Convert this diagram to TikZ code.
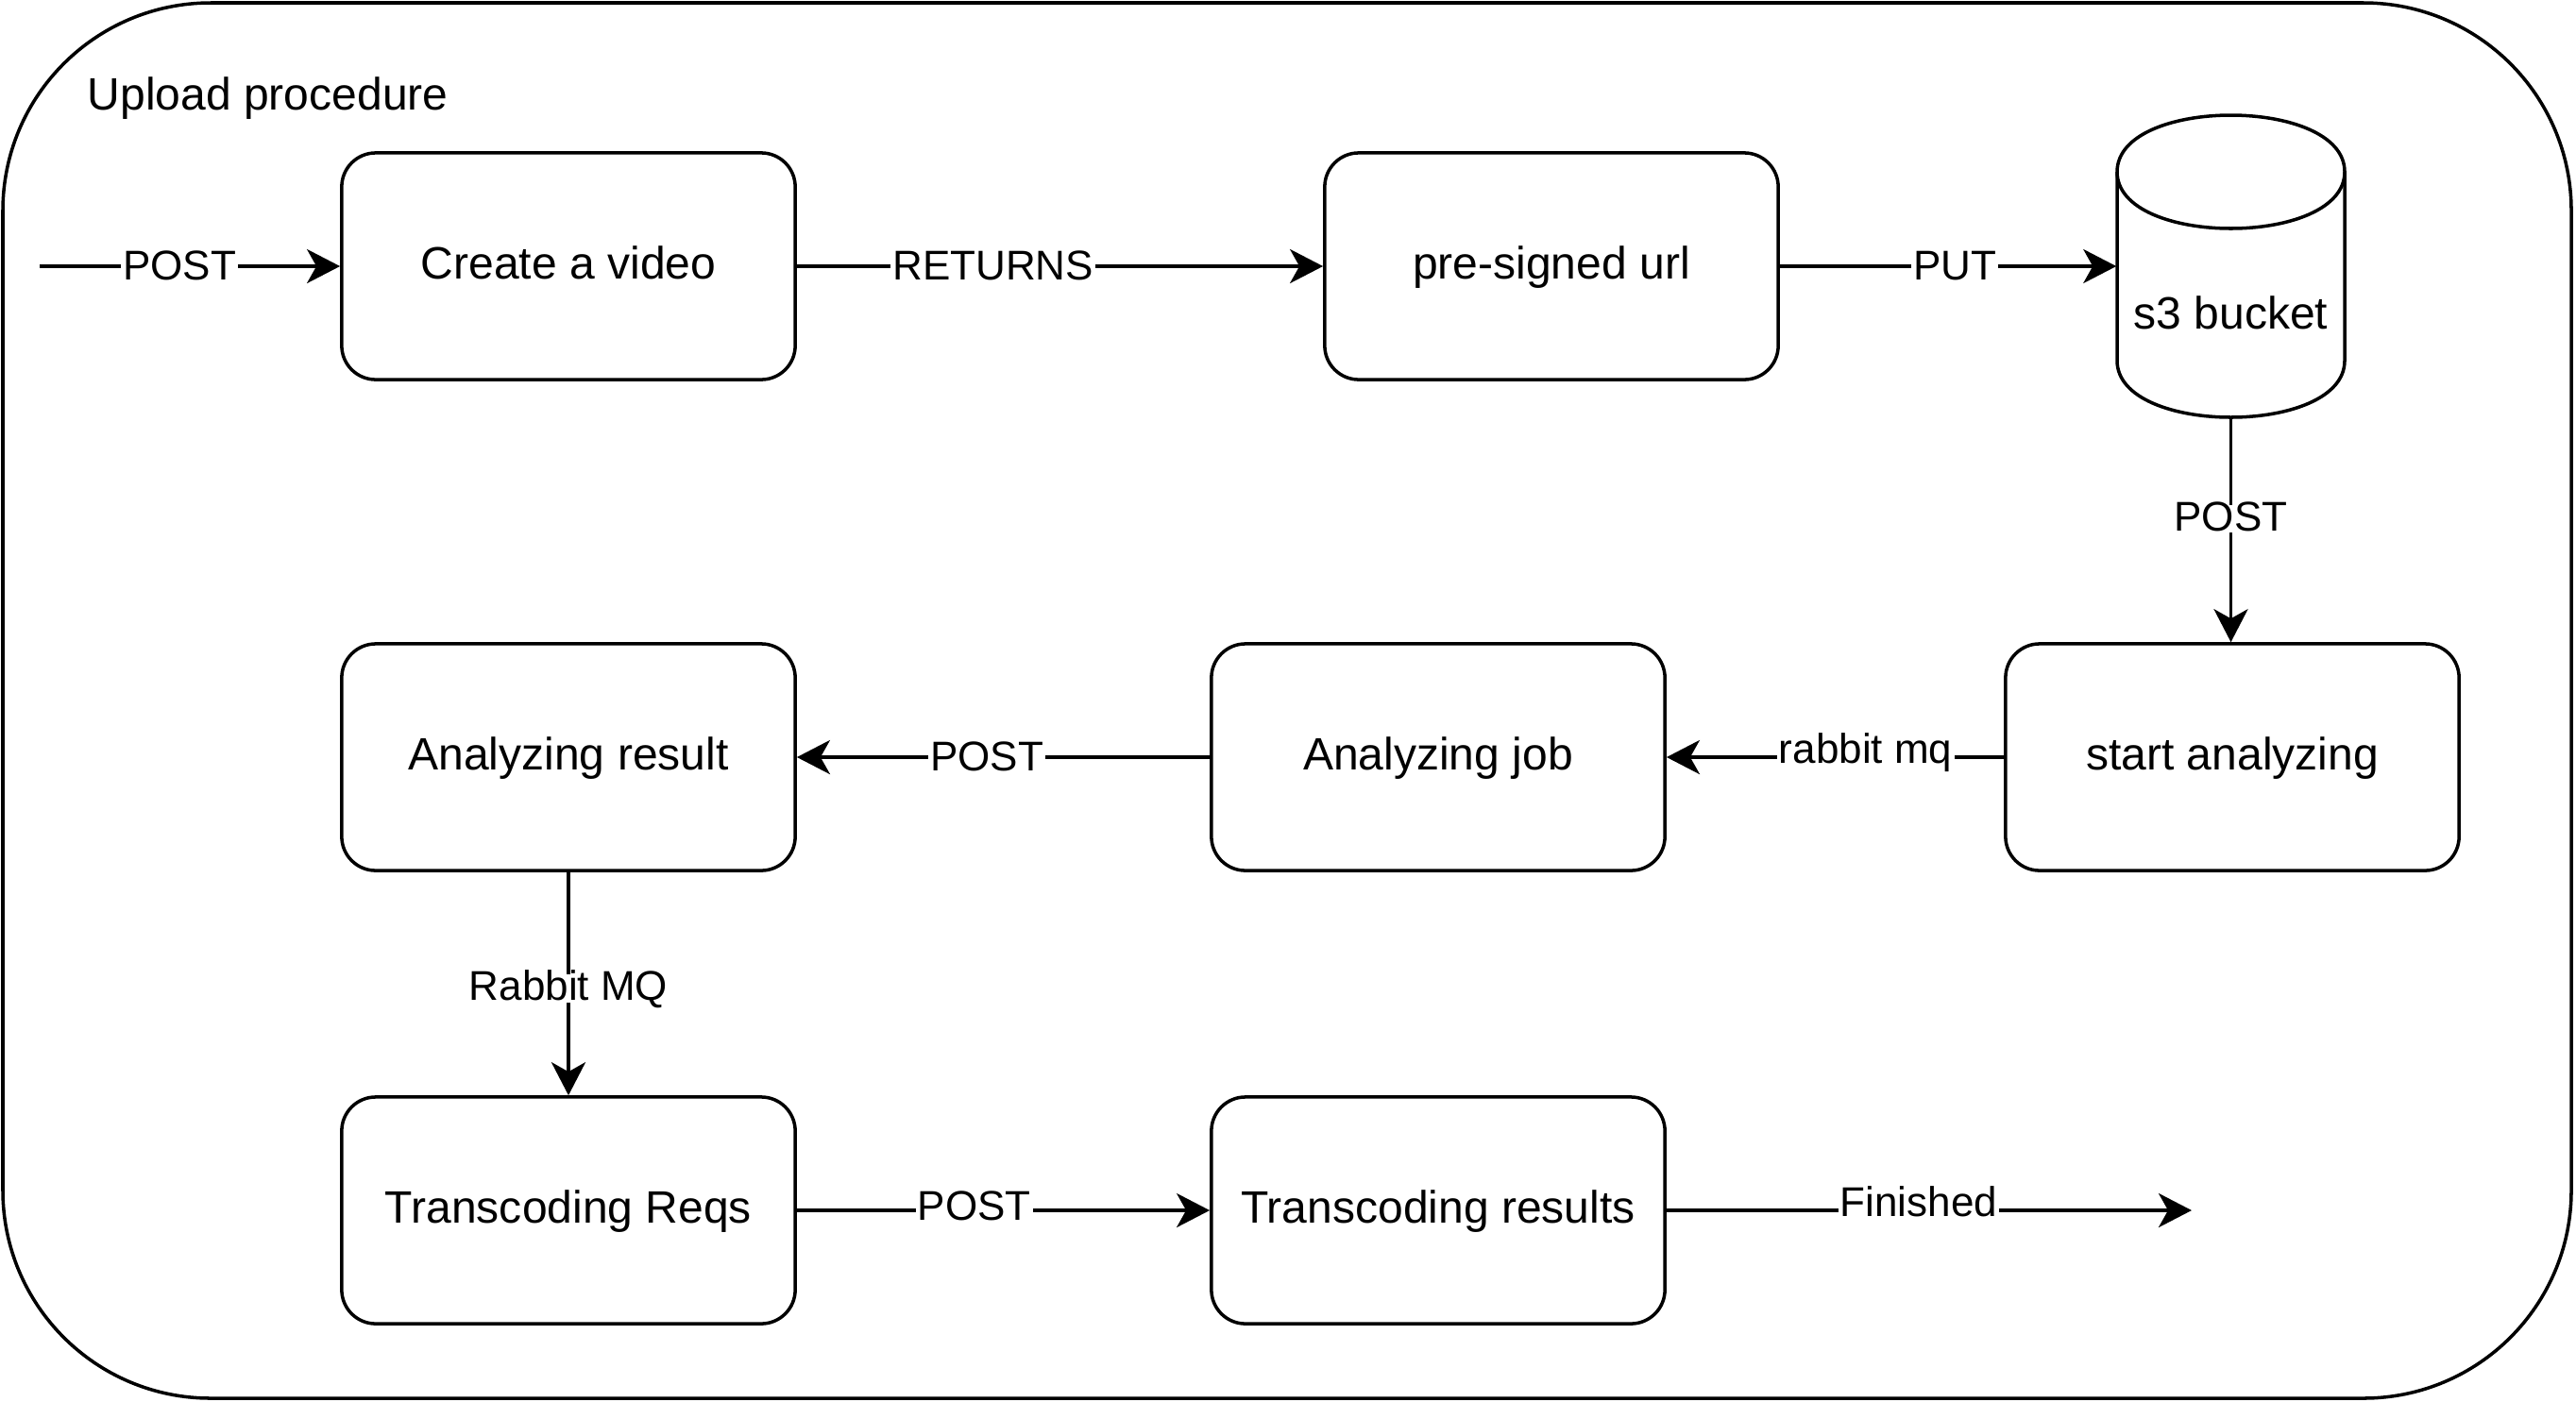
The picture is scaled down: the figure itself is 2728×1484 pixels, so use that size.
\documentclass[tikz,border=0pt]{standalone}
\usepackage{fontspec}
\setmainfont{Liberation Sans}
\usetikzlibrary{arrows.meta}
\begin{document}
\begin{tikzpicture}[x=0.01cm,y=-0.01cm,
  line/.style={line width=1pt},
  boxfont/.style={font=\fontsize{13.66pt}{16pt}\selectfont},
  box/.style={draw, line width=1pt, rounded corners=0.36cm, minimum width=4.8cm, minimum height=2.4cm, inner sep=0pt, boxfont, text height=0.9em, text depth=0.15em, fill=white},
  conn/.style={line width=1pt, -{Stealth[length=0.35cm,width=0.36cm,inset=0.1cm]}},
  lbl/.style={fill=white, inner sep=0.6pt, text height=0.72em, text depth=0pt, font=\fontsize{12.52pt}{15pt}\selectfont},
]
\useasboundingbox (0,0) rectangle (2728,1484);
\draw[line, rounded corners=2.2cm] (3,3) rectangle (2723,1481);
\node[anchor=base west, boxfont, inner sep=0pt] (title) at (92,116) {Upload procedure};

\node[box] (create) at (602,282) {Create a video};
\node[box] (presign) at (1643,282) {pre-signed url};
\node[minimum width=2.41cm, minimum height=3.2cm, inner sep=0pt] (s3) at (2362.5,282) {};
\draw[line, fill=white] (2242,182) .. controls (2242,102) and (2483,102) .. (2483,182) -- (2483,382) .. controls (2483,462) and (2242,462) .. (2242,382) -- cycle;
\draw[line] (2242,182) .. controls (2242,262) and (2483,262) .. (2483,182);
\node[boxfont, inner sep=0pt] (s3text) at (2362.5,331) {s3 bucket};
\node[box] (start) at (2364,802) {start analyzing};
\node[box] (job) at (1523,802) {Analyzing job};
\node[box] (result) at (602,802) {Analyzing result};
\node[box] (treq) at (602,1282) {Transcoding Reqs};
\node[box] (tres) at (1523,1282) {Transcoding results};
\coordinate (in) at (42,282);
\coordinate (out) at (2321,1282);

\draw[conn] (in) -- node[lbl,pos=0.466,yshift=-0.015cm]{POST} (create);
\draw[conn] (create) -- node[lbl,pos=0.373,yshift=-0.015cm]{RETURNS} (presign);
\draw[conn] (presign) -- node[lbl,pos=0.52,yshift=-0.015cm]{PUT} (s3.west);
\draw[conn] (s3.south) -- node[lbl,pos=0.45]{POST} (s3.south |- start.north);
\draw[conn] (start) -- node[lbl,pos=0.41,yshift=0.065cm]{rabbit mq} (job);
\draw[conn] (job) -- node[lbl,pos=0.54,yshift=-0.015cm]{POST} (result);
\draw[conn] (result) -- node[lbl,pos=0.52]{Rabbit MQ} (treq);
\draw[conn] (treq) -- node[lbl,pos=0.43,yshift=0.025cm]{POST} (tres);
\draw[conn] (tres) -- node[lbl,pos=0.48,yshift=0.065cm]{Finished} (out);
\end{tikzpicture}
\end{document}
